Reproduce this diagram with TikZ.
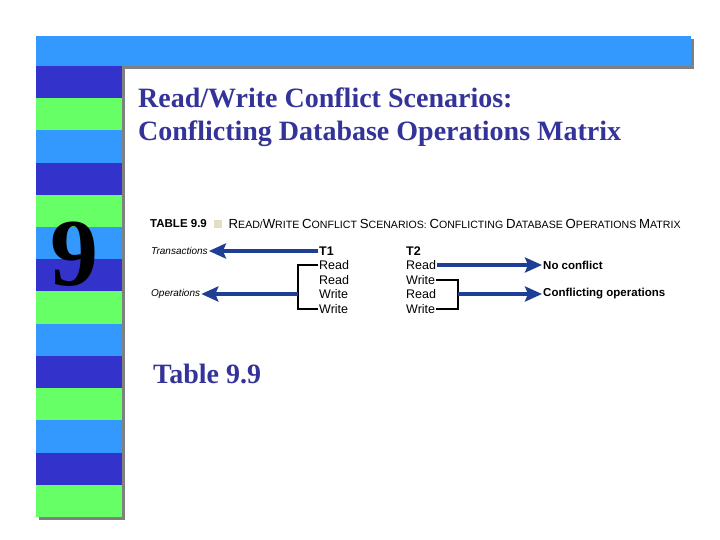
\documentclass[tikz,border=0pt]{standalone}
\usepackage{fontspec}
\setmainfont{Liberation Serif}
\setsansfont{Liberation Sans}
\usetikzlibrary{arrows.meta, positioning}
\definecolor{barblue}{HTML}{3399FF}
\definecolor{darkstripe}{HTML}{3333CC}
\definecolor{greenstripe}{HTML}{66FF66}
\definecolor{titleblue}{HTML}{333399}
\definecolor{arrownavy}{HTML}{1F3F95}
\definecolor{shadowgray}{HTML}{808080}
\definecolor{tagbeige}{HTML}{E6DEC0}
\newcommand{\hdcap}[2]{{\fontsize{13.2}{14}\selectfont #1}{\fontsize{10.6}{11}\selectfont #2}}

\begin{document}
\begin{tikzpicture}[
  x=1pt, y=-1pt,
  cell/.style={font=\sffamily\fontsize{12.5}{13}\selectfont, inner sep=1pt, anchor=west},
  colhead/.style={font=\sffamily\bfseries\fontsize{12.5}{13}\selectfont, inner sep=1pt, anchor=west},
  side/.style={font=\sffamily\itshape\fontsize{10}{12}\selectfont, inner sep=1pt, anchor=west},
  result/.style={font=\sffamily\bfseries\fontsize{11.5}{12}\selectfont, inner sep=1pt, anchor=west},
  titleline/.style={anchor=base west, inner sep=0pt, text=titleblue, font=\bfseries\fontsize{28}{33}\selectfont},
  bigarrow/.style={-{Stealth[length=17pt, width=15pt, inset=3pt]}, line width=4.5pt, draw=arrownavy},
  bracket/.style={line width=1.3pt}
]
  \useasboundingbox (0,0) rectangle (720,540);

  % frame: bar and striped column
  \fill[shadowgray] (39,39) rectangle (694,69);
  \fill[shadowgray] (39,69) rectangle (125,520);
  \fill[barblue] (36,36) rectangle (691,66);
  \foreach \c [count=\i from 0] in {darkstripe,greenstripe,barblue,darkstripe,greenstripe,barblue,darkstripe,
                                    greenstripe,barblue,darkstripe,greenstripe,barblue,darkstripe,greenstripe}
    \fill[\c] (36,{66+\i*32.21}) rectangle (122,{66+(\i+1)*32.21});

  \node[font=\bfseries\fontsize{96}{96}\selectfont, anchor=base, inner sep=0pt] (chapnum) at (74,285) {9};

  \node[titleline] (title1) at (138,108) {Read/Write Conflict Scenarios:};
  \node[titleline] (title2) at (138,141) {Conflicting Database Operations Matrix};

  % table heading
  \node[anchor=west, inner sep=0pt, font=\sffamily\bfseries\fontsize{11.5}{12}\selectfont] (tabno) at (150,224) {TABLE 9.9};
  \node[fill=tagbeige, minimum size=8pt, inner sep=0pt, right=7pt of tabno] (tag) {};
  \node[anchor=west, inner sep=0pt, font=\sffamily, right=6pt of tag] (tabtitle)
    {\hdcap{R}{EAD}/\hdcap{W}{RITE} \hdcap{C}{ONFLICT} \hdcap{S}{CENARIOS}: \hdcap{C}{ONFLICTING} \hdcap{D}{ATABASE} \hdcap{O}{PERATIONS} \hdcap{M}{ATRIX}};

  % left labels
  \node[side] (trans) at (150,251) {Transactions};
  \node[side] (ops) at (150,294) {Operations};

  % T1 column
  \node[colhead] (t1) at (318,251) {T1};
  \node[cell] (a1) at (318,265) {Read};
  \node[cell] (a2) at (318,280) {Read};
  \node[cell] (a3) at (318,294) {Write};
  \node[cell] (a4) at (318,309) {Write};

  % T2 column
  \node[colhead] (t2) at (405,251) {T2};
  \node[cell] (b1) at (405,265) {Read};
  \node[cell] (b2) at (405,280) {Write};
  \node[cell] (b3) at (405,294) {Read};
  \node[cell] (b4) at (405,309) {Write};

  % results
  \node[result] (nocon) at (542,265) {No conflict};
  \node[result] (confl) at (542,294) {Conflicting operations};

  \coordinate (lbrack) at (298,294);
  \coordinate (rbrack) at (458,294);

  \draw[bracket] (a1.west) -| (lbrack) |- (a4.west);
  \draw[bracket] (b2.east) -| (rbrack) |- (b4.east);

  \draw[bigarrow] (t1.west) -- (trans.east);
  \draw[bigarrow] (lbrack) -- (ops.east);
  \draw[bigarrow] (b1.east) -- (nocon.west);
  \draw[bigarrow] (rbrack) -- (confl.west);

  \node[titleline, font=\bfseries\fontsize{28}{30}\selectfont] (caption) at (153,383) {Table 9.9};
\end{tikzpicture}
\end{document}
